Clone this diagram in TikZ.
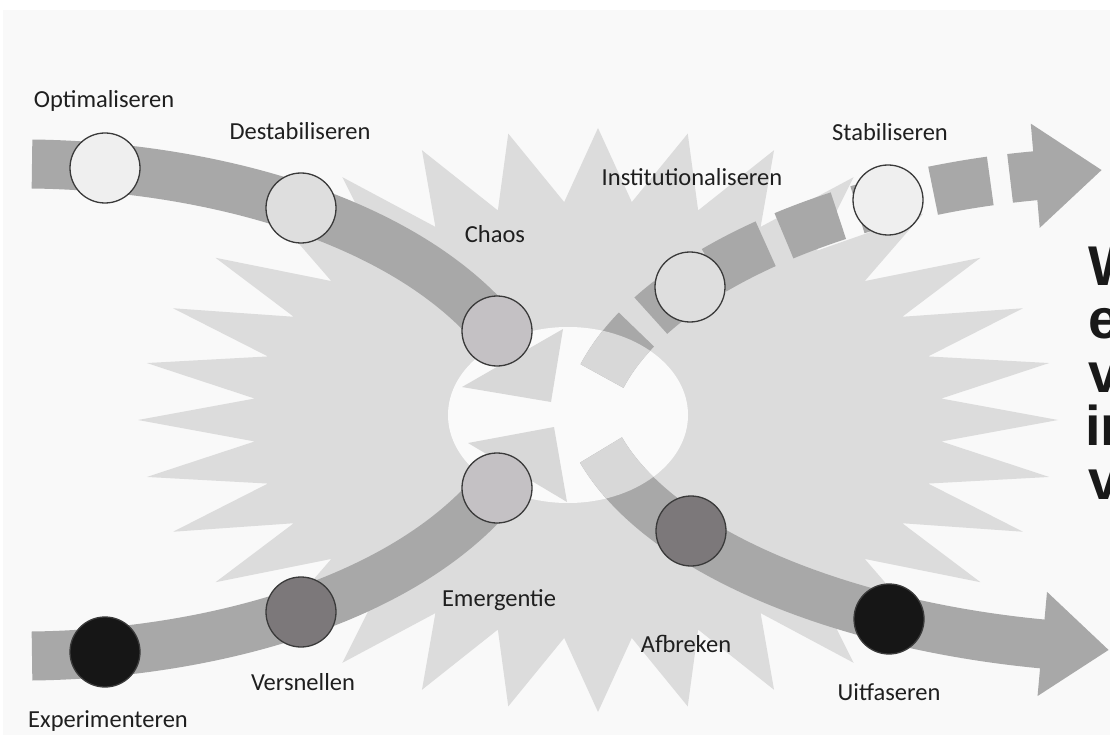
\documentclass[tikz,border=0pt]{standalone}
\usepackage{fontspec}
\setmainfont{Carlito}
\newfontfamily\bigsans{Liberation Sans}
\usetikzlibrary{arrows.meta}

\definecolor{pagebg}{HTML}{F9F9F9}
\definecolor{starfill}{HTML}{DCDCDC}
\definecolor{holefill}{HTML}{FAFAFA}
\definecolor{bandgray}{HTML}{A8A8A8}
\definecolor{bandpale}{HTML}{D8D8D8}
\definecolor{rim}{HTML}{3A3A3A}
\definecolor{shadeA}{HTML}{EFEFEF}
\definecolor{shadeB}{HTML}{DEDEDE}
\definecolor{shadeC}{HTML}{C4C1C4}
\definecolor{shadeD}{HTML}{7C787A}
\definecolor{shadeE}{HTML}{161616}

\pgfdeclarelayer{ground}
\pgfdeclarelayer{bands}
\pgfsetlayers{ground,bands,main}

\tikzset{
    band/.style={line width=49pt, draw=bandgray},
    paleband/.style={line width=49pt, draw=bandpale},
    dashed band/.style={dash pattern=on 58pt off 20pt},
    bandtip/.style={-{Triangle[width=100pt, length=67pt]}},
    stage/.style={draw=rim, circle, line width=1.3pt, minimum size=70pt, inner sep=0pt},
    stagename/.style={font=\fontsize{24.5}{29}\selectfont, text=black!88, anchor=base, inner sep=0pt},
    bigword/.style={font=\bigsans\bfseries\fontsize{56}{64}\selectfont, text=black!90, anchor=base west, inner sep=0pt}
}

\begin{document}
\begin{tikzpicture}[x=1pt, y=-1pt]
    \useasboundingbox (0,0) rectangle (1110,735);

    % stages on the four paths
    \node[stage, fill=shadeA] (optim) at (105,168) {};
    \node[stage, fill=shadeB] (destab) at (301,208) {};
    \node[stage, fill=shadeC] (chaos) at (497,331) {};
    \node[stage, fill=shadeC] (emerg) at (497,488) {};
    \node[stage, fill=shadeD] (versn) at (301,612) {};
    \node[stage, fill=shadeE] (exper) at (105,652) {};
    \node[stage, fill=shadeB] (instit) at (690,287) {};
    \node[stage, fill=shadeA] (stabil) at (888,200) {};
    \node[stage, fill=shadeD] (afbr) at (691,531) {};
    \node[stage, fill=shadeE] (uitf) at (889,619) {};

    \coordinate (inA) at (32,164);
    \coordinate (inB) at (32,656);
    \coordinate (startC) at (601,450);
    \coordinate (startD) at (602,376);
    \coordinate (tipC) at (1109,650);
    \coordinate (tipD) at (1102,170);

    % background, star and hole
    \begin{pgfonlayer}{ground}
        \fill[white] (0,0) rectangle (1110,735);
        \fill[pagebg] (3,10) rectangle (1110,735);
        \fill[starfill] plot[samples at={0,...,63}]
            ({598+(460-115*mod(\x,2))*cos(90+5.625*\x)}, {420-(292-73*mod(\x,2))*sin(90+5.625*\x)}) -- cycle;
        \fill[holefill] (568,415) ellipse [x radius=120, y radius=88];
    \end{pgfonlayer}

    % the four paths
    \begin{pgfonlayer}{bands}
        \draw[band] (inA) .. controls (200,166) and (400,215) .. (chaos.center);
        \draw[band] (inB) .. controls (200,654) and (400,605) .. (emerg.center);
        \draw[band, bandtip] (startC) .. controls (661,553) and (845,626) .. (tipC);
        \draw[band, dashed band, bandtip] (startD) .. controls (658,270) and (846,192) .. (tipD);
        \begin{scope}
            \clip (568,415) ellipse [x radius=120, y radius=88];
            \draw[paleband] (startC) .. controls (661,553) and (845,626) .. (tipC);
            \draw[paleband, dashed band] (startD) .. controls (658,270) and (846,192) .. (tipD);
            \fill[bandpale] (462,387) -- (563,329) -- (551,402) -- cycle;
            \fill[bandpale] (468,443) -- (554,427) -- (567,502) -- cycle;
        \end{scope}
    \end{pgfonlayer}

    % names
    \node[stagename] at (104,108) {Optimaliseren};
    \node[stagename] at (300,140) {Destabiliseren};
    \node[stagename] at (495,243) {Chaos};
    \node[stagename] at (692,186) {Institutionaliseren};
    \node[stagename] at (890,141) {Stabiliseren};
    \node[stagename] at (499,606) {Emergentie};
    \node[stagename] at (303,690) {Versnellen};
    \node[stagename] at (108,727) {Experimenteren};
    \node[stagename] at (686,652) {Afbreken};
    \node[stagename] at (889,700) {Uitfaseren};

    % words cut off at the right edge
    \node[bigword] at (1088,285) {W};
    \node[bigword] at (1088,338) {e};
    \node[bigword] at (1088,392) {v};
    \node[bigword] at (1085,445) {in};
    \node[bigword] at (1088,499) {v};
\end{tikzpicture}
\end{document}
